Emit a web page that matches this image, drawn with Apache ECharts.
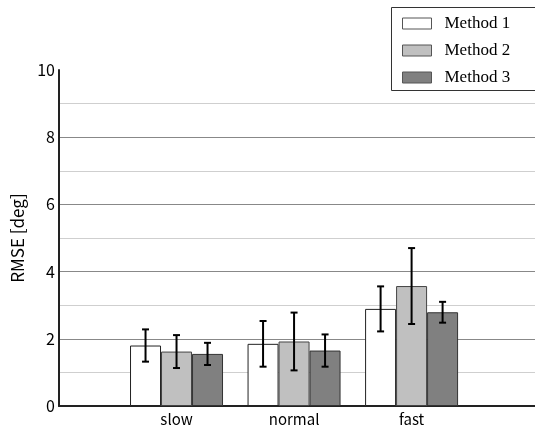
<!DOCTYPE html>
<html><head><meta charset="utf-8">
<script src="https://cdn.jsdelivr.net/npm/echarts@6/dist/echarts.min.js"></script>
<style>html,body{margin:0;padding:0;background:#fff}#c{width:535px;height:431px}</style>
</head><body><div id="c"></div>
<script>
var categories = ['slow', 'normal', 'fast'];
var seriesNames = ['Method 1', 'Method 2', 'Method 3'];
var m1 = [1.80, 1.85, 2.89];
var m1Err = [0.48, 0.68, 0.67];
var m2 = [1.62, 1.92, 3.57];
var m2Err = [0.49, 0.86, 1.13];
var m3 = [1.55, 1.65, 2.79];
var m3Err = [0.33, 0.48, 0.31];
var yTicks = [0, 2, 4, 6, 8, 10];

var colors = ['#ffffff', '#c0c0c0', '#808080'];
var borders = ['#222222', '#444444', '#333333'];
var BW = 31;
var means = [m1, m2, m3];
var errs = [m1Err, m2Err, m3Err];

var chart = echarts.init(document.getElementById('c'));
var series = [];
means.forEach(function (m, s) {
  series.push({
    name: seriesNames[s], type: 'bar', barWidth: BW, barGap: '0%',
    data: m.map(function (v, i) { return [i + 1, v]; }),
    itemStyle: { color: colors[s], borderColor: borders[s], borderWidth: 1 },
    z: 2
  });
});
means.forEach(function (m, s) {
  var off = (s - 1) * BW;
  series.push({
    type: 'custom', z: 5, silent: true,
    data: m.map(function (v, i) { return [i + 1, v - errs[s][i], v + errs[s][i]]; }),
    encode: { x: 0, y: [1, 2] },
    renderItem: function (params, api) {
      var lo = api.coord([api.value(0), api.value(1)]);
      var hi = api.coord([api.value(0), api.value(2)]);
      var x = lo[0] + off;
      var st = { stroke: '#000', lineWidth: 2 };
      return { type: 'group', children: [
        { type: 'line', shape: { x1: x, y1: lo[1], x2: x, y2: hi[1] }, style: st },
        { type: 'line', shape: { x1: x - 3.5, y1: lo[1], x2: x + 3.5, y2: lo[1] }, style: st },
        { type: 'line', shape: { x1: x - 3.5, y1: hi[1], x2: x + 3.5, y2: hi[1] }, style: st }
      ] };
    }
  });
});

chart.setOption({
  animation: false,
  grid: { left: 59, right: 0, top: 70, bottom: 25 },
  graphic: [{
    type: 'rect', z: 0,
    shape: { x: 391.5, y: 7.5, width: 200, height: 83 },
    style: { fill: '#fff', stroke: '#333', lineWidth: 1 }
  }],
  legend: {
    data: seriesNames, orient: 'vertical', left: 391, top: 7,
    icon: 'rect', itemWidth: 29, itemHeight: 11, itemGap: 10,
    padding: [8, 10, 5, 11], z: 10,
    itemStyle: { borderWidth: 1, borderColor: '#555' },
    textStyle: { fontFamily: 'Liberation Serif', fontSize: 17, color: '#000', padding: [0, 0, 0, 8] }
  },
  xAxis: {
    type: 'value', min: 0, max: 4.05, interval: 1,
    splitLine: { show: false }, axisTick: { show: false },
    axisLine: { lineStyle: { color: '#222', width: 2 } },
    axisLabel: {
      showMaxLabel: false, margin: 6,
      fontFamily: 'Noto Sans CJK JP', fontSize: 15, color: '#000',
      formatter: function (v) { return categories[v - 1] || ''; }
    }
  },
  yAxis: {
    type: 'value', min: yTicks[0], max: yTicks[yTicks.length - 1], interval: 2,
    name: 'RMSE [deg]', nameLocation: 'middle', nameGap: 25,
    nameTextStyle: { fontFamily: 'Noto Sans CJK JP', fontSize: 17, color: '#000' },
    axisLine: { show: true, lineStyle: { color: '#222', width: 2 } },
    axisTick: { show: false },
    axisLabel: { margin: 4, fontFamily: 'Noto Sans CJK JP', fontSize: 16, color: '#000' },
    splitLine: { show: true, lineStyle: { color: ['#888', '#888', '#888', '#888', '#888', 'transparent'], width: 1 } },
    minorTick: { show: false, splitNumber: 2 },
    minorSplitLine: { show: true, lineStyle: { color: '#cfcfcf', width: 1 } }
  },
  series: series
});
</script></body></html>
